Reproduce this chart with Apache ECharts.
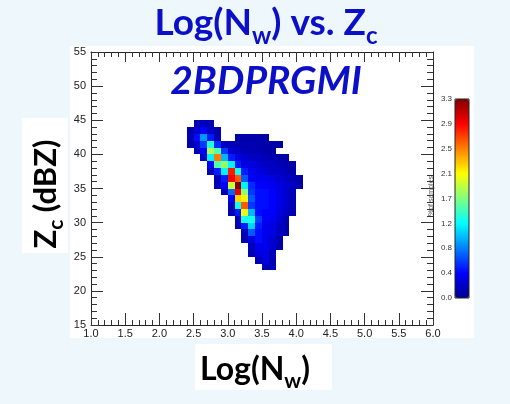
<!DOCTYPE html>
<html lang="en">
<head>
<meta charset="UTF-8">
<title>Log(Nw) vs. Zc - 2BDPRGMI</title>
<script src="https://cdn.jsdelivr.net/npm/echarts@6/dist/echarts.min.js"></script>
<style>
    * { margin: 0; padding: 0; }
    body { background: #eef7fb; }
    #chart { width: 510px; height: 404px; }
</style>
</head>
<body>
<div id="chart"></div>
<script>
    // Zc bins (lower edge, 1 dBZ wide), top row first
    var zRows = [44, 43, 42, 41, 40, 39, 38, 37, 36, 35, 34, 33, 32, 31, 30, 29, 28, 27, 26, 25, 24, 23];
    // Log(Nw) of the first bin in each row (bins 0.1 wide)
    var rowStart = [2.5, 2.4, 2.4, 2.4, 2.5, 2.6, 2.7, 2.7, 2.8, 2.8, 2.9, 3.0, 3.0, 3.0, 3.1, 3.1, 3.2, 3.2, 3.3, 3.3, 3.4, 3.5];
    // % of samples per bin, left to right (null = empty bin)
    var rowValues = [
        [0.12, 0.2, 0.12],
        [0.1, 0.25, 0.4, 0.2, 0.1],
        [0.15, 0.45, 0.9, 0.5, 0.12, null, null, 0.08, 0.1, 0.1, 0.1, 0.08],
        [0.1, 0.25, 0.6, 1.35, 0.55, 0.2, 0.15, 0.12, 0.12, 0.12, 0.12, 0.1, 0.1, 0.08],
        [0.15, 0.4, 1.8, 1.5, 0.6, 0.25, 0.18, 0.15, 0.12, 0.12, 0.1, 0.08],
        [0.2, 1.2, 2.5, 1.0, 0.5, 0.3, 0.25, 0.2, 0.2, 0.15, 0.12, 0.1, 0.08],
        [0.4, 1.5, 1.7, 1.2, 0.5, 0.3, 0.3, 0.25, 0.2, 0.2, 0.15, 0.12, 0.08],
        [0.15, 0.5, 1.2, 2.8, 1.3, 0.5, 0.35, 0.3, 0.25, 0.2, 0.2, 0.15, 0.1],
        [0.15, 0.5, 2.9, 2.6, 0.7, 0.4, 0.35, 0.35, 0.3, 0.25, 0.2, 0.15, 0.1],
        [0.15, 0.4, 1.9, 3.3, 1.2, 0.55, 0.4, 0.4, 0.35, 0.3, 0.25, 0.2, 0.1],
        [0.15, 0.75, 2.95, 1.7, 0.6, 0.45, 0.45, 0.4, 0.3, 0.25, 0.15],
        [0.4, 2.2, 2.1, 0.7, 0.45, 0.45, 0.4, 0.35, 0.25, 0.15],
        [0.15, 1.3, 2.6, 0.6, 0.45, 0.45, 0.4, 0.3, 0.25, 0.15],
        [0.12, 0.5, 2.0, 1.0, 0.45, 0.4, 0.4, 0.3, 0.2, 0.12],
        [0.15, 1.3, 1.3, 0.6, 0.4, 0.35, 0.25, 0.12],
        [0.12, 0.5, 1.1, 0.5, 0.35, 0.3, 0.2, 0.1],
        [0.15, 0.7, 0.45, 0.35, 0.3, 0.2, 0.1],
        [0.12, 0.3, 0.45, 0.35, 0.25, 0.12],
        [0.15, 0.35, 0.35, 0.25, 0.1],
        [0.12, 0.3, 0.3, 0.15],
        [0.15, 0.3, 0.15],
        [0.15, 0.15]
    ];
    var binW = 0.1, binH = 1;
    // colour bar tick labels
    var cbMax = 3.3;
    var cbLabels = ['0.0', '0.4', '0.8', '1.2', '1.7', '2.1', '2.5', '2.9', '3.3'];
    var jet = ['#00008f', '#0000ff', '#0080ff', '#00ffff', '#80ff80', '#ffff00', '#ff8000', '#ff0000', '#800000'];

    var cells = [];
    zRows.forEach(function (z, r) {
        rowValues[r].forEach(function (v, i) {
            if (v == null) return;
            cells.push([Math.round((rowStart[r] + i * binW) * 10) / 10, z, v]);
        });
    });

    var blue = '#0b10c8';
    var tickFont = {fontFamily: 'Liberation Sans', fontSize: 11, color: '#222'};
    var frameLine = {show: true, lineStyle: {color: '#222', width: 1}};

    function frameAxis(extra) {
        var a = {
            axisLine: frameLine,
            axisTick: {inside: true, length: 12, lineStyle: {color: '#333'}},
            minorTick: {show: true, splitNumber: 5, length: 5, lineStyle: {color: '#333'}},
            splitLine: {show: false}
        };
        for (var k in extra) a[k] = extra[k];
        return a;
    }

    var chart = echarts.init(document.getElementById('chart'));
    chart.setOption({
        backgroundColor: '#eef7fb',
        animation: false,
        grid: [
            {left: 91, top: 52, width: 342, height: 273},
            {left: 455, top: 99, width: 14, height: 199}
        ],
        xAxis: [
            frameAxis({type: 'value', gridIndex: 0, min: 1, max: 6, interval: 0.5, position: 'bottom',
                axisLabel: Object.assign({margin: 3, formatter: function (v) { return v.toFixed(1); }}, tickFont)}),
            frameAxis({type: 'value', gridIndex: 0, min: 1, max: 6, interval: 0.5, position: 'top',
                axisLabel: {show: false}, minorTick: {show: true, splitNumber: 5, length: 5, lineStyle: {color: '#333'}},
                axisTick: {inside: true, length: 10, lineStyle: {color: '#333'}}}),
            {type: 'value', gridIndex: 1, show: false, min: 0, max: 1}
        ],
        yAxis: [
            frameAxis({type: 'value', gridIndex: 0, min: 15, max: 55, interval: 5, position: 'left',
                axisLabel: Object.assign({margin: 5}, tickFont),
                minorTick: {show: true, splitNumber: 5, length: 6, lineStyle: {color: '#333'}}}),
            frameAxis({type: 'value', gridIndex: 0, min: 15, max: 55, interval: 5, position: 'right',
                axisLabel: {show: false},
                minorTick: {show: true, splitNumber: 5, length: 6, lineStyle: {color: '#333'}}}),
            {type: 'value', gridIndex: 1, min: 0, max: cbMax, interval: cbMax / 8,
                axisLine: {show: false}, axisTick: {show: false}, splitLine: {show: false},
                axisLabel: {margin: 3, fontFamily: 'Liberation Sans', fontSize: 8, color: '#333',
                    formatter: function (v) { return cbLabels[Math.round(v / (cbMax / 8))]; }}}
        ],
        visualMap: {
            type: 'continuous',
            min: 0, max: cbMax,
            dimension: 2,
            seriesIndex: 0,
            calculable: false,
            left: 455, top: 99,
            itemWidth: 14, itemHeight: 199,
            padding: 0,
            inRange: {color: jet}
        },
        series: [{
            type: 'custom',
            xAxisIndex: 0, yAxisIndex: 0,
            data: cells,
            renderItem: function (params, api) {
                var p0 = api.coord([api.value(0), api.value(1) + binH]);
                var p1 = api.coord([api.value(0) + binW, api.value(1)]);
                var x0 = Math.round(p0[0]), y0 = Math.round(p0[1]);
                return {
                    type: 'rect',
                    shape: {x: x0, y: y0, width: Math.round(p1[0]) - x0, height: Math.round(p1[1]) - y0},
                    style: {fill: api.visual('color')}
                };
            }
        }],
        graphic: [
            // white panels behind plot and axis titles
            {type: 'rect', z: -10, shape: {x: 70, y: 46, width: 404, height: 292}, style: {fill: '#fff'}},
            {type: 'rect', z: -10, shape: {x: 22, y: 118, width: 46, height: 135}, style: {fill: '#fff'}},
            {type: 'rect', z: -10, shape: {x: 195, y: 344, width: 137, height: 46}, style: {fill: '#fff'}},
            // colour bar frame
            {type: 'rect', z: 100, shape: {x: 455, y: 99, width: 14, height: 199},
                style: {fill: null, stroke: '#222', lineWidth: 1}},
            {type: 'text', z: 100, x: 266, y: 23, style: {
                text: '{m|Log(N}{s|w}{m|) vs. Z}{s|c}', align: 'center', verticalAlign: 'middle',
                rich: {
                    m: {fontSize: 37, fontWeight: 'bold', fontFamily: 'Lato', fill: blue},
                    s: {fontSize: 24, fontWeight: 'bold', fontFamily: 'Lato', fill: blue, padding: [26, 0, 0, 0]}
                }}},
            {type: 'text', z: 100, x: 266, y: 81, style: {
                text: '2BDPRGMI', align: 'center', verticalAlign: 'middle',
                font: 'italic bold 39px Lato', fill: blue}},
            {type: 'text', z: 100, x: 46, y: 194, rotation: Math.PI / 2, style: {
                text: '{m|Z}{s|c}{m| (dBZ)}', align: 'center', verticalAlign: 'middle',
                rich: {
                    m: {fontSize: 31, fontWeight: 'bold', fontFamily: 'Lato', fill: '#000'},
                    s: {fontSize: 21, fontWeight: 'bold', fontFamily: 'Lato', fill: '#000', padding: [20, 0, 0, 0]}
                }}},
            {type: 'text', z: 100, x: 255, y: 370, style: {
                text: '{m|Log(N}{s|w}{m|)}', align: 'center', verticalAlign: 'middle',
                rich: {
                    m: {fontSize: 32, fontWeight: 'bold', fontFamily: 'Lato', fill: '#000'},
                    s: {fontSize: 21, fontWeight: 'bold', fontFamily: 'Lato', fill: '#000', padding: [22, 0, 0, 0]}
                }}},
            {type: 'text', z: 100, x: 431, y: 196, rotation: Math.PI / 2, style: {
                text: '%of samples', align: 'center', verticalAlign: 'middle',
                font: '7px Liberation Sans', fill: '#555'}}
        ]
    });
</script>
</body>
</html>
